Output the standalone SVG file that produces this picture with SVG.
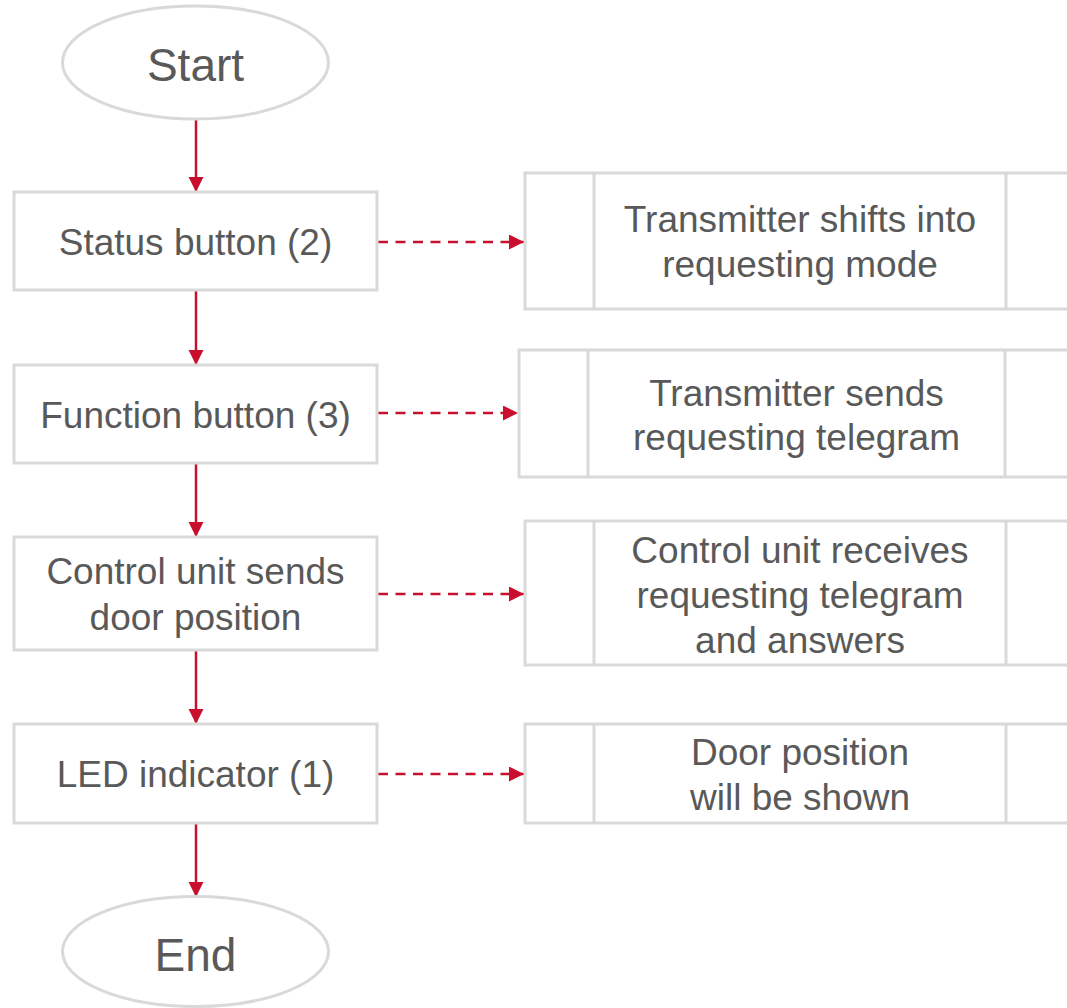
<svg xmlns="http://www.w3.org/2000/svg" width="1067" height="1008" viewBox="0 0 1067 1008">
<style>
.box{fill:#fff;stroke:#d9d9d9;stroke-width:3}
.div{stroke:#d9d9d9;stroke-width:3}
.t{font-family:"Liberation Sans",Arial,sans-serif;font-size:37px;fill:#595959;text-anchor:middle}
.big{font-size:46px}
.flow{stroke:#c8102e;stroke-width:2.5;fill:none}
.dash{stroke:#c8102e;stroke-width:2.5;fill:none;stroke-dasharray:10 7.5}
</style>
<defs>
<marker id="ah" markerWidth="16" markerHeight="16" refX="15" refY="7.5" markerUnits="userSpaceOnUse" orient="auto">
<path d="M0,0 L15,7.5 L0,15 Z" fill="#c8102e"/>
</marker>
</defs>
<rect width="1067" height="1008" fill="#fff"/>
<g id="connectors">
<line class="flow" x1="196" y1="119" x2="196" y2="192" marker-end="url(#ah)"/>
<line class="flow" x1="196" y1="290" x2="196" y2="365" marker-end="url(#ah)"/>
<line class="flow" x1="196" y1="463" x2="196" y2="537" marker-end="url(#ah)"/>
<line class="flow" x1="196" y1="650" x2="196" y2="724" marker-end="url(#ah)"/>
<line class="flow" x1="196" y1="823" x2="196" y2="897" marker-end="url(#ah)"/>
<line class="dash" x1="378" y1="242" x2="524" y2="242" marker-end="url(#ah)"/>
<line class="dash" x1="378" y1="413" x2="518" y2="413" marker-end="url(#ah)"/>
<line class="dash" x1="378" y1="594" x2="524" y2="594" marker-end="url(#ah)"/>
<line class="dash" x1="378" y1="774" x2="524" y2="774" marker-end="url(#ah)"/>
</g>
<g id="start">
<ellipse class="box" cx="195.5" cy="62.5" rx="133" ry="56.5"/>
<text class="t big" x="195.5" y="81">Start</text>
</g>
<g id="status-button">
<rect class="box" x="14" y="192" width="363" height="98"/>
<text class="t" x="195.5" y="255">Status button (2)</text>
</g>
<g id="function-button">
<rect class="box" x="14" y="365" width="363" height="98"/>
<text class="t" x="195.5" y="428">Function button (3)</text>
</g>
<g id="control-unit-sends">
<rect class="box" x="14" y="537" width="363" height="113"/>
<text class="t" x="195.5" y="584">Control unit sends</text>
<text class="t" x="195.5" y="630">door position</text>
</g>
<g id="led-indicator">
<rect class="box" x="14" y="724" width="363" height="99"/>
<text class="t" x="195.5" y="787">LED indicator (1)</text>
</g>
<g id="end">
<ellipse class="box" cx="195.5" cy="951.5" rx="133" ry="55"/>
<text class="t big" x="195.5" y="971">End</text>
</g>
<g id="transmitter-shifts">
<rect class="box" x="525" y="173" width="560" height="136"/>
<line class="div" x1="594" y1="173" x2="594" y2="309"/>
<line class="div" x1="1006" y1="173" x2="1006" y2="309"/>
<text class="t" x="800" y="232">Transmitter shifts into</text>
<text class="t" x="800" y="277">requesting mode</text>
</g>
<g id="transmitter-sends">
<rect class="box" x="519" y="350" width="566" height="127"/>
<line class="div" x1="588" y1="350" x2="588" y2="477"/>
<line class="div" x1="1005" y1="350" x2="1005" y2="477"/>
<text class="t" x="796.5" y="406">Transmitter sends</text>
<text class="t" x="796.5" y="450">requesting telegram</text>
</g>
<g id="control-unit-receives">
<rect class="box" x="525" y="521" width="560" height="144"/>
<line class="div" x1="594" y1="521" x2="594" y2="665"/>
<line class="div" x1="1006" y1="521" x2="1006" y2="665"/>
<text class="t" x="800" y="563">Control unit receives</text>
<text class="t" x="800" y="608">requesting telegram</text>
<text class="t" x="800" y="653">and answers</text>
</g>
<g id="door-position-shown">
<rect class="box" x="525" y="724" width="560" height="99"/>
<line class="div" x1="594" y1="724" x2="594" y2="823"/>
<line class="div" x1="1006" y1="724" x2="1006" y2="823"/>
<text class="t" x="800" y="765">Door position</text>
<text class="t" x="800" y="810">will be shown</text>
</g>
</svg>
